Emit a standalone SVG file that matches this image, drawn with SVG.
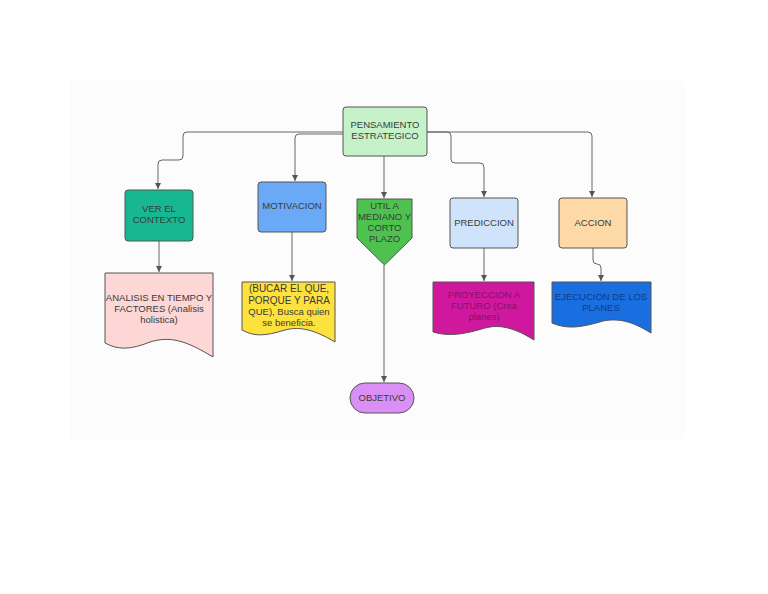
<svg xmlns="http://www.w3.org/2000/svg" width="768" height="594" viewBox="0 0 768 594">
<defs>
<marker id="ah" markerWidth="8" markerHeight="8" refX="6" refY="4" orient="auto" markerUnits="userSpaceOnUse">
<path d="M0,1 L6,4 L0,7 Z" fill="#555"/>
</marker>
<style>
.n{stroke:#555;stroke-width:1}
.t{font-family:"Liberation Sans",Arial,sans-serif;font-size:9.5px;fill:#3a3a3a;text-anchor:middle}
.c{fill:none;stroke:#666;stroke-width:1;marker-end:url(#ah)}
</style>
</defs>
<rect width="768" height="594" fill="#fff"/>
<rect x="70" y="81" width="615" height="358" fill="#fcfcfc"/>
<g id="connectors">
<path class="c" d="M343,132 H187 Q183,132 183,136 V156 Q183,160 179,160 H162 Q158,160 158,164 V189"/>
<path class="c" d="M343,134 H299 Q295,134 295,138 V181"/>
<path class="c" d="M384,156 V198"/>
<path class="c" d="M427,132 H447 Q451,132 451,136 V159 Q451,163 455,163 H480 Q484,163 484,167 V197"/>
<path class="c" d="M427,132 H588 Q592,132 592,136 V197"/>
<path class="c" d="M159,241 V272"/>
<path class="c" d="M292,232 V281"/>
<path class="c" d="M384,265 V382"/>
<path class="c" d="M484,248 V281"/>
<path class="c" d="M593,248 V260 Q593,264 597,264 Q601,264 601,268 V281"/>
</g>
<g id="pensamiento">
<rect class="n" x="343" y="107" width="84" height="49" rx="3" fill="#c5f2c8"/>
<text class="t" x="385" y="128">PENSAMIENTO</text>
<text class="t" x="385" y="139">ESTRATEGICO</text>
</g>
<g id="ver">
<rect class="n" x="125" y="190" width="68" height="51" rx="3" fill="#17b891"/>
<text class="t" x="159" y="212">VER EL</text>
<text class="t" x="159" y="223">CONTEXTO</text>
</g>
<g id="analisis">
<path class="n" d="M105,273 H213 V357 C185,340 170,336 150,342 C130,350 118,350 105,343 Z" fill="#fdd6d6"/>
<text class="t" x="159" y="301">ANALISIS EN TIEMPO Y</text>
<text class="t" x="159" y="312">FACTORES (Analisis</text>
<text class="t" x="159" y="323">holistica)</text>
</g>
<g id="motivacion">
<rect class="n" x="258" y="182" width="68" height="50" rx="3" fill="#6aa9f6"/>
<text class="t" x="292" y="209">MOTIVACION</text>
</g>
<g id="bucar">
<path class="n" d="M242,282 H335 V342 C315,330 300,326 285,330 C265,336 255,337 242,330 Z" fill="#fde13d"/>
<text class="t" x="289" y="292" style="font-size:10px">(BUCAR EL QUE,</text>
<text class="t" x="289" y="304" style="font-size:10px">PORQUE Y PARA</text>
<text class="t" x="289" y="315">QUE), Busca quien</text>
<text class="t" x="289" y="326">se beneficia.</text>
</g>
<g id="util">
<path class="n" d="M357,199 H412 V238 L384.5,265 L357,238 Z" fill="#4ec24f"/>
<text class="t" x="384.5" y="209">UTIL A</text>
<text class="t" x="384.5" y="220">MEDIANO Y</text>
<text class="t" x="384.5" y="231">CORTO</text>
<text class="t" x="384.5" y="242">PLAZO</text>
</g>
<g id="objetivo">
<rect class="n" x="350" y="383" width="64" height="30" rx="15" fill="#da8ff5"/>
<text class="t" x="382" y="401">OBJETIVO</text>
</g>
<g id="prediccion">
<rect class="n" x="450" y="198" width="68" height="50" rx="3" fill="#cfe4fb"/>
<text class="t" x="484" y="226">PREDICCION</text>
</g>
<g id="proyeccion">
<path class="n" d="M433,282 H534 V340 C515,328 500,324 485,328 C465,334 450,337 433,332 Z" fill="#cf189e"/>
<text class="t" x="484" y="298" style="fill:#8a0f68">PROYECCION A</text>
<text class="t" x="484" y="309" style="fill:#8a0f68">FUTURO (Crea</text>
<text class="t" x="484" y="320" style="fill:#8a0f68">planes)</text>
</g>
<g id="accion">
<rect class="n" x="559" y="198" width="68" height="50" rx="3" fill="#fed9a8"/>
<text class="t" x="593" y="226">ACCION</text>
</g>
<g id="ejecucion">
<path class="n" d="M552,282 H651 V333 C632,321 618,318 603,321 C583,327 568,330 552,323 Z" fill="#1a6fe0"/>
<text class="t" x="601" y="300" style="fill:#0d3b85">EJECUCION DE LOS</text>
<text class="t" x="601" y="311" style="fill:#0d3b85">PLANES</text>
</g>
</svg>
